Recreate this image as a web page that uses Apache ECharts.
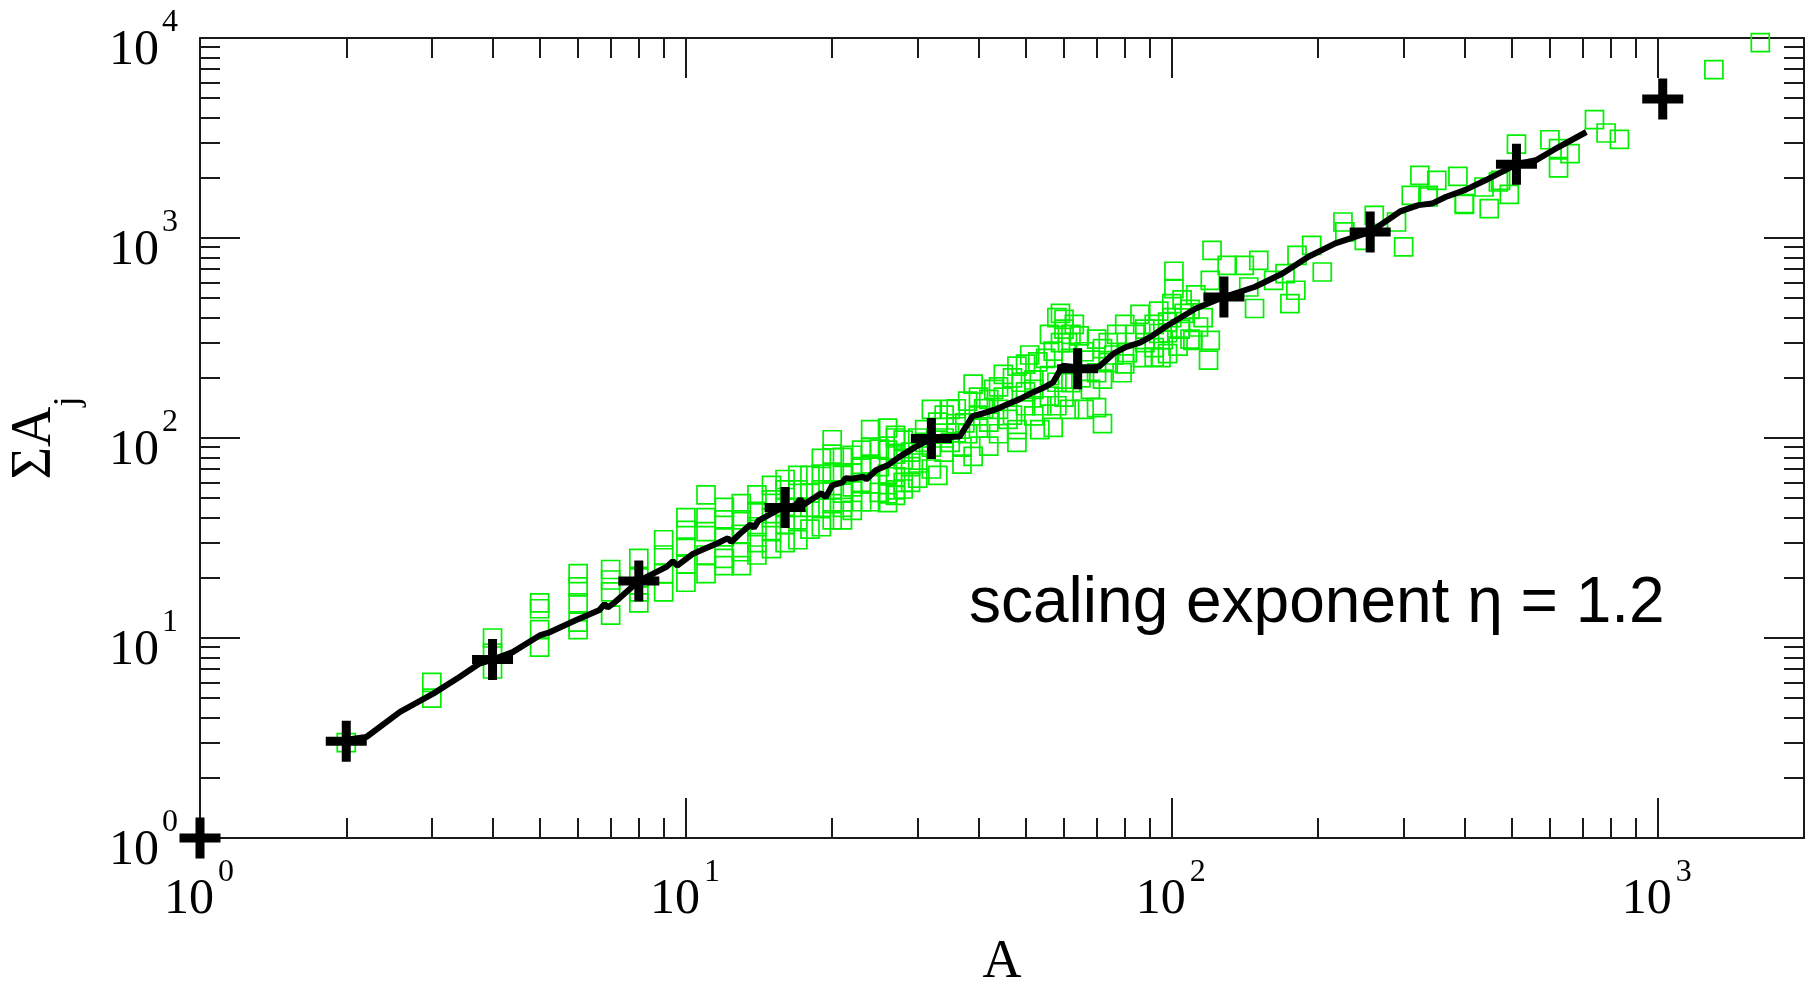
<!DOCTYPE html>
<html lang="en">
<head>
<meta charset="UTF-8">
<title>Scaling exponent</title>
<script src="https://cdn.jsdelivr.net/npm/echarts@6/dist/echarts.min.js"></script>
<style>
    html, body { margin: 0; padding: 0; background: #fff; }
    #chart { width: 1820px; height: 985px; }
</style>
</head>
<body>
<div id="chart"></div>
<script>
    // green squares, one [A, sum A_j] pair per cluster
    const squaresSmallA = [
        [2, 3],
        [3, 5], [3, 6],
        [4, 7], [4, 8.4], [4, 10],
        [5, 9], [5, 11], [5, 14], [5, 15],
        [6, 11], [6, 12], [6, 15], [6, 18], [6, 21],
        [7, 13], [7, 17], [7, 19.5], [7, 22],
        [8, 15], [8, 17], [8, 20], [8, 25],
        [9, 17], [9, 21], [9, 26], [9, 31],
        [10, 19], [10, 23.5], [10, 28.5], [10, 34.5], [10, 40],
        [11, 21], [11, 26], [11, 34], [11, 40], [11, 52],
        [12, 23], [12, 25], [12, 32], [12, 39], [12, 45],
        [13, 23], [13, 27], [13, 33], [13, 39], [13, 47],
        [14, 26], [14, 30], [14, 36], [14, 43], [14, 52],
        [15, 28], [15, 34], [15, 40], [15, 49], [15, 58],
        [16, 30], [16, 37], [16, 45], [16, 55], [16, 62],
        [17, 31], [17, 39], [17, 45], [17, 55], [17, 65],
        [18, 35], [18, 45], [18, 53], [18, 65],
        [19, 36], [19, 45], [19, 55], [19, 66], [19, 79],
        [20, 39], [20, 47], [20, 55], [20, 67], [20, 83], [20, 98],
        [21, 39], [21, 45], [21, 53], [21, 66], [21, 80],
        [22, 43.5], [22, 57], [22, 67], [22, 82],
        [23, 48], [23, 60], [23, 72], [23, 87],
        [24, 48], [24, 59], [24, 74], [24, 90], [24, 110],
        [25, 53.5], [25, 72], [25, 88],
        [26, 47.5], [26, 52.5], [26, 66], [26, 87], [26, 112],
        [27, 51.7], [27, 55], [27, 64], [27, 83], [27, 100], [27, 103],
        [28, 55.6], [28, 60], [28, 78], [28, 97.5]
    ];
    const squaresMidA = [
        [29, 60], [29, 72], [29, 85], [30, 63], [30, 75], [30, 100], [31, 95], [31, 110], [32, 70],
        [32, 90], [32, 139], [33, 65], [33, 120], [34, 85], [34, 100], [34, 130], [35, 95], [35, 139],
        [36, 106], [36, 118], [36, 140], [37, 74], [37, 90], [37.5, 119], [38, 105], [38, 153],
        [39, 81], [39, 186], [40, 112], [40, 129], [40, 160], [41, 140], [42, 91], [42, 120],
        [42, 156], [43, 175], [44, 105], [44, 139], [44, 180], [45, 160], [45, 208], [46, 124],
        [47, 130], [47, 200], [48, 95], [48, 110], [48, 229], [49, 190], [50, 145], [50, 170],
        [50, 234], [51, 260], [52, 129], [52, 175], [52, 195], [53, 240], [53.5, 110], [54, 145],
        [55, 250], [56, 162], [56, 205], [56, 330], [57, 113], [57, 272], [58, 145], [58, 190],
        [58, 400], [59, 300], [59, 420], [60, 160], [60, 350], [60, 392], [61, 300], [61.6, 139],
        [62, 189], [62, 250], [62, 330], [63, 370], [64.5, 324], [65, 200], [66, 139], [66, 270],
        [68, 175], [68, 245], [70, 142], [70, 212], [70, 312], [72, 118], [72, 197], [72, 280],
        [74, 238], [74, 300], [76, 260], [77, 330], [79, 212], [80, 235], [80, 370], [81, 267],
        [84, 330], [86, 415], [87, 252], [88, 300], [88, 350], [92, 283], [92, 370], [94, 431],
        [95, 252], [96, 310], [98, 336], [98, 380], [100, 400], [103, 288], [104, 350], [109, 312],
        [109, 440]
    ];
    const squaresLargeA = [
        [92, 254], [94, 333], [98, 264], [100, 470], [101, 558], [101, 682], [105, 490],
        [106, 420], [110.5, 308], [112, 520], [113.5, 359], [116, 400], [119, 245], [120, 308],
        [120, 614], [121, 868], [130, 730], [141, 730], [144, 569], [148, 444], [151, 773],
        [162, 614], [171, 664], [175, 470], [180, 548], [181, 819], [194, 919], [204, 676],
        [225, 1202], [227, 1072], [249, 974], [261, 1299], [290, 1202], [300, 902], [311, 1635],
        [324, 2057], [337, 1603], [337, 1635], [351, 1943], [388, 2034], [400, 1474], [400, 1486],
        [439, 1799], [450, 1403], [470, 1905], [475, 1943], [495, 1654], [512, 2950], [600, 3100],
        [625, 2800], [625, 2240], [660, 2640], [741, 3908], [783, 3350], [834, 3116],
        [1305, 6950], [1626, 9484]
    ];

    // running average (black line)
    const meanLine = [
        [2, 3.1], [2.2, 3.2], [2.58, 4.27], [3.02, 5.27], [3.42, 6.38], [3.76, 7.45], [4, 7.8],
        [4.4, 8.5], [5, 10.3], [5.2, 10.6], [5.95, 12.3], [6.64, 13.8], [6.8, 14.8], [6.9, 14.2],
        [7.1, 14.9], [8, 19.3], [9.1, 22.6], [9.4, 24.2], [9.6, 23], [10.35, 26.4], [11.55, 29.6],
        [12.2, 31.5], [12.4, 30.2], [12.9, 33.1], [13.6, 37], [13.8, 35.5], [14.1, 38.6],
        [15.8, 44.9], [16.8, 46], [17.2, 49.5], [17.5, 46.5], [18, 48.7], [19, 53], [19.4, 50.5],
        [20, 58], [21, 60], [21.3, 63], [22, 62.6], [23.2, 64], [23.5, 62], [24.6, 69], [26, 73],
        [27.5, 80.5], [29.7, 90.3], [32, 99.3], [34, 101], [36.6, 101.6], [38.9, 128.6], [41, 133],
        [43.4, 139], [46, 148], [48.5, 156], [52, 170], [55, 180.5], [57, 190], [59.6, 230],
        [64.3, 225], [68, 222], [70.9, 228], [76, 265], [80.4, 285], [86, 300], [91.1, 324],
        [97, 360], [103.5, 396], [112, 444], [128, 507], [148, 569], [169, 664], [191, 806],
        [217, 940], [256, 1072], [295, 1358], [322, 1460], [343, 1486], [366, 1603], [402, 1740],
        [442, 1943], [512, 2336], [561, 2446], [625, 2850], [713, 3388]
    ];

    // log-binned averages (black plus marks)
    const binnedMeans = [
        [1, 1], [2, 3.05], [4, 7.8], [8, 19.3], [16, 44.9], [32, 99.3], [64, 222],
        [128, 507], [256, 1072], [512, 2336], [1024, 4950]
    ];

    const xMinorTicks = [2, 3, 4, 5, 6, 7, 8, 9, 20, 30, 40, 50, 60, 70, 80, 90,
        200, 300, 400, 500, 600, 700, 800, 900];
    const yMinorTicks = xMinorTicks.concat([2000, 3000, 4000, 5000, 6000, 7000, 8000, 9000]);
    const X_MAX = 2000;
    const Y_MAX = 10000;

    const frameColor = '#1a1a1a';
    const serif = 'Liberation Serif';

    // decade exponent of v, or null when v is not a power of ten
    function decade(v) {
        const l = Math.log10(v);
        const e = Math.round(l);
        return Math.abs(l - e) > 1e-6 ? null : e;
    }

    function logAxis(position, max) {
        return {
            type: 'log',
            position: position,
            min: 1,
            max: max,
            axisLine: {show: true, onZero: false, lineStyle: {color: frameColor, width: 2}},
            axisTick: {show: true, inside: true, length: 40, lineStyle: {color: frameColor, width: 2}},
            splitLine: {show: false},
            axisLabel: {show: false}
        };
    }

    function minorAxis(position, max, ticks) {
        return {
            type: 'value',
            position: position,
            min: 0,
            max: Math.log10(max),
            axisLine: {show: false, onZero: false},
            axisTick: {
                show: true, inside: true, length: 20,
                customValues: ticks.map(t => Math.log10(t)),
                lineStyle: {color: frameColor, width: 2}
            },
            axisLabel: {show: false},
            splitLine: {show: false}
        };
    }

    // "10" part of the tick labels
    function baseLabels(axis, extra) {
        axis.axisLabel = Object.assign({
            show: true,
            formatter: v => decade(v) === null ? '' : '10',
            fontFamily: serif,
            fontSize: 50,
            color: '#000',
            showMinLabel: true,
            showMaxLabel: true,
            hideOverlap: false
        }, extra);
        return axis;
    }

    // exponent part, on an overlapping axis without line or ticks
    function expAxis(position, max, extra) {
        const axis = logAxis(position, max);
        axis.axisLine = {show: false, onZero: false};
        axis.axisTick = {show: false};
        axis.axisLabel = Object.assign({
            show: true,
            formatter: v => decade(v) === null ? '' : String(decade(v)),
            fontFamily: serif,
            fontSize: 32,
            color: '#000',
            showMinLabel: true,
            showMaxLabel: true,
            hideOverlap: false
        }, extra);
        return axis;
    }

    const xBottom = baseLabels(logAxis('bottom', X_MAX),
        {margin: 42, lineHeight: 40, verticalAlign: 'top', align: 'center', padding: [0, 22, 0, 0]});
    xBottom.name = 'A';
    xBottom.nameLocation = 'middle';
    xBottom.nameGap = 98;
    xBottom.nameTextStyle = {fontFamily: serif, fontSize: 54, color: '#000'};

    const yLeft = baseLabels(logAxis('left', Y_MAX),
        {margin: 41, lineHeight: 26, verticalAlign: 'top', align: 'right'});
    yLeft.name = '{a|ΣA}{j|j}';
    yLeft.nameLocation = 'middle';
    yLeft.nameRotate = 90;
    yLeft.nameGap = 113;
    yLeft.nameTextStyle = {
        rich: {
            a: {fontFamily: serif, fontSize: 56, lineHeight: 80, verticalAlign: 'top', color: '#000'},
            j: {fontFamily: serif, fontSize: 36, verticalAlign: 'bottom', color: '#000'}
        }
    };

    const chart = echarts.init(document.getElementById('chart'), null, {renderer: 'canvas'});
    chart.setOption({
        animation: false,
        backgroundColor: '#fff',
        grid: {left: 200, right: 16, top: 38, bottom: 147, containLabel: false, outerBoundsMode: 'none'},
        xAxis: [
            xBottom,
            logAxis('top', X_MAX),
            minorAxis('bottom', X_MAX, xMinorTicks),
            minorAxis('top', X_MAX, xMinorTicks),
            expAxis('bottom', X_MAX,
                {margin: 20, lineHeight: 30, verticalAlign: 'top', align: 'left', padding: [0, 0, 0, 18]})
        ],
        yAxis: [
            yLeft,
            logAxis('right', Y_MAX),
            minorAxis('left', Y_MAX, yMinorTicks),
            minorAxis('right', Y_MAX, yMinorTicks),
            expAxis('left', Y_MAX, {margin: 22, lineHeight: 30, verticalAlign: 'bottom', align: 'right'})
        ],
        graphic: [{
            type: 'text',
            x: 969,
            y: 604,
            style: {
                text: 'scaling exponent η = 1.2',
                fontFamily: 'Liberation Sans',
                fontSize: 64,
                fill: '#000',
                align: 'left',
                verticalAlign: 'middle'
            }
        }],
        series: [
            {
                type: 'scatter',
                data: squaresSmallA.concat(squaresMidA, squaresLargeA),
                symbol: 'rect',
                symbolSize: 18,
                clip: false,
                z: 2,
                itemStyle: {color: 'rgba(0,0,0,0)', borderColor: '#00f000', borderWidth: 1.7, opacity: 1}
            },
            {
                type: 'line',
                data: meanLine,
                symbol: 'none',
                clip: false,
                z: 3,
                lineStyle: {color: '#000', width: 6}
            },
            {
                type: 'scatter',
                data: binnedMeans,
                symbol: 'path://M16,0H25V16H41V25H25V41H16V25H0V16H16Z',
                symbolSize: 41,
                clip: false,
                z: 4,
                itemStyle: {color: '#000', opacity: 1}
            }
        ]
    });
</script>
</body>
</html>
